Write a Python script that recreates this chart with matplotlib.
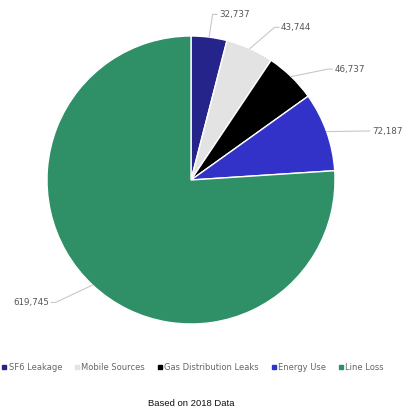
import matplotlib
matplotlib.use("Agg")
import matplotlib.pyplot as plt
from matplotlib.lines import Line2D
import numpy as np

categories = ["SF6 Leakage", "Mobile Sources", "Gas Distribution Leaks", "Energy Use", "Line Loss"]
values = [32737, 43744, 46737, 72187, 619745]
colors = ["#24248a", "#e3e3e3", "#000000", "#3232c8", "#2f8f66"]
title_text = "Based on 2018 Data"

# leader-line elbow positions (in pie radius units)
elbows = [(0.15, 1.15), (0.58, 1.06), (0.95, 0.77), (1.21, 0.34), (-0.94, -0.85)]

W, H = 409, 416
fig = plt.figure(figsize=(W / 100, H / 100), dpi=100)
cx, cy, r = 191, 180, 144
ax = fig.add_axes([(cx - r) / W, (H - cy - r) / H, 2 * r / W, 2 * r / H])

wedges, _ = ax.pie(values, colors=colors, startangle=90, counterclock=False,
                   radius=1.0, wedgeprops=dict(edgecolor="white", linewidth=1.0))
for w in wedges:
    w.set_clip_on(False)
ax.set_xlim(-1, 1)
ax.set_ylim(-1, 1)
ax.axis("off")

total = sum(values)
cum = 0
for v, (ex, ey) in zip(values, elbows):
    mid = 90 - (cum + v / 2) / total * 360
    cum += v
    a = np.deg2rad(mid)
    px, py = np.cos(a), np.sin(a)
    d = 1 if ex >= 0 else -1
    hx = ex + d * 0.03
    ax.plot([px, ex, hx], [py, ey, ey], color="#c8c8c8", lw=0.8, clip_on=False)
    ax.text(hx + d * 0.015, ey, f"{v:,}", ha="left" if d > 0 else "right", va="center",
            fontsize=6.3, color="#555555", family="DejaVu Sans")

handles = [Line2D([], [], marker="s", linestyle="none", markersize=2.5,
                  markerfacecolor=c, markeredgecolor=c) for c in colors]
fig.legend(handles, categories, loc="center", bbox_to_anchor=(0.472, 1 - 367 / H),
           ncol=5, frameon=False, fontsize=6, handlelength=0.5, handletextpad=0.3,
           columnspacing=1.5, labelcolor="#666666")

fig.text(191 / W, 1 - 403 / H, title_text, ha="center", va="center",
         fontsize=6.8, family="Liberation Sans", color="#111111")

fig.savefig("out.png", dpi=100, facecolor="white")
